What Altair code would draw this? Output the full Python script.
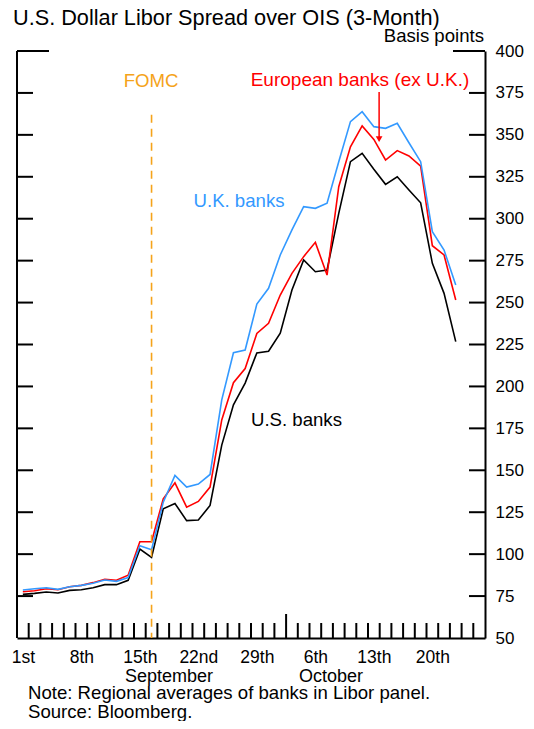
import altair as alt
import pandas as pd

W, H = 468, 587
FONT = "Liberation Sans"

# business days, day 0 = 1 Sep 2008, last point = 22 Oct 2008 (day 37)
us_banks = [76, 76.6, 77.4, 76.8, 78.4, 78.8, 80, 81.8, 81.8, 84.4,
            103, 98, 127, 130.2, 120, 120.4, 129, 165, 189, 202,
            220, 221, 231.7, 257.5, 275.4, 268.4, 269.4, 303.2, 334, 339,
            329.5, 320.5, 325, 317.1, 309.5, 273.4, 255.5, 226.7]
euro_banks = [77.6, 78.2, 79.4, 78.8, 80.6, 81.4, 83, 85, 84.4, 87.4,
              107.4, 107.4, 133, 142.5, 128, 131.4, 140, 180, 202.2, 210.7,
              231.6, 237.6, 254.5, 267.4, 277.4, 285.9, 266.4, 319.1, 342.9, 355.3,
              347.3, 335, 340.6, 337.4, 331.4, 283.9, 278.4, 251.5]
uk_banks = [78.6, 79.4, 80, 79, 80.6, 81.4, 82.6, 84.6, 83.8, 86,
            105, 102.6, 131, 147, 140, 141.8, 147.5, 192, 220.1, 221.7,
            249.1, 258.5, 278.4, 293.3, 307.2, 306.2, 309.2, 334, 357.9, 363.8,
            354.9, 353.9, 356.9, 345.3, 334, 292.3, 281.3, 260.5]
series = [("U.S. banks", us_banks, "black"),
          ("European banks (ex U.K.)", euro_banks, "red"),
          ("U.K. banks", uk_banks, "#3399ff")]

label_days = [0, 5, 10, 15, 20, 25, 30, 35]
label_text = ["1st", "8th", "15th", "22nd", "29th", "6th", "13th", "20th"]
y_labels = list(range(50, 401, 25))
y_ticks = list(range(75, 376, 25))
day_ticks = [k + 0.5 for k in range(39) if k != 22]
month_tick = [22.5]
fomc_day = 11
fomc_top = 362
arrow_day, arrow_top, arrow_tip = 30.45, 375.5, 347.5

xs = alt.Scale(domain=[-0.5, 39.5], nice=False, zero=False)
ys = alt.Scale(domain=[50, 400], nice=False, zero=False)
label_expr = "[" + ",".join(f"'{t}'" for t in label_text) + "][datum.value / 5]"

x_axis = alt.Axis(values=label_days, labelExpr=label_expr, tickSize=0, domainColor="black",
                  domainWidth=2, labelFont=FONT, labelFontSize=17.5, labelColor="black",
                  labelPadding=10, title=None, grid=False, labelFlush=False)
y_axis = alt.Axis(orient="right", values=y_labels, tickSize=0, domainColor="black",
                  domainWidth=2, labelFont=FONT, labelFontSize=17, labelColor="black",
                  labelPadding=10, title=None, grid=False, labelFlush=False)


def X(field):
    return alt.X(field, scale=xs, axis=x_axis)


def Y(field):
    return alt.Y(field, scale=ys, axis=y_axis)


layers = []
for name, vals, col in series:
    d = pd.DataFrame({"day": list(range(len(vals))), "bp": vals})
    layers.append(alt.Chart(d).mark_line(color=col, strokeWidth=1.6).encode(
        x=X("day:Q"), y=Y("bp:Q")))

one = pd.DataFrame({"a": [0]})
frame = alt.Chart(one).mark_rule(color="black", strokeWidth=2).encode(
    x=alt.value(0), y=alt.value(0), y2=alt.value(H))


def ticks(values, x0, x1):
    return alt.Chart(pd.DataFrame({"bp": values})).mark_rule(color="black", strokeWidth=2).encode(
        y=Y("bp:Q"), x=alt.value(x0), x2=alt.value(x1))


def xticks(values, length):
    return alt.Chart(pd.DataFrame({"day": values})).mark_rule(color="black", strokeWidth=2).encode(
        x=X("day:Q"), y=alt.value(H - length), y2=alt.value(H))


fomc = alt.Chart(pd.DataFrame({"day": [fomc_day], "bp": [fomc_top], "bot": [50]})).mark_rule(
    color="#f5a31a", strokeWidth=1.6, strokeDash=[8, 6]).encode(
    x=X("day:Q"), y=Y("bp:Q"), y2="bot:Q")

arrow_df = pd.DataFrame({"day": [arrow_day], "bp": [arrow_top], "tip": [arrow_tip]})
shaft = alt.Chart(arrow_df).mark_rule(color="red", strokeWidth=1.5).encode(
    x=X("day:Q"), y=Y("bp:Q"), y2="tip:Q")
head = alt.Chart(arrow_df).mark_point(shape="triangle-down", filled=True, color="red",
                                      size=45, opacity=1).encode(
    x=X("day:Q"), y=Y("tip:Q"))


def note(text, x, y, size=18.6, color="black", align="left"):
    return alt.Chart(pd.DataFrame({"t": [text]})).mark_text(
        font=FONT, fontSize=size, color=color, align=align, baseline="alphabetic").encode(
        x=alt.value(x), y=alt.value(y), text="t:N")


texts = [
    note("U.S. Dollar Libor Spread over OIS (3-Month)", -4, -26.5, size=21.7),
    note("Basis points", 467, -9, align="right"),
    note("FOMC", 134, 36, color="#f5a31a", align="center"),
    note("European banks (ex U.K.)", 343, 35, size=19, color="red", align="center"),
    note("U.K. banks", 222, 156, color="#3399ff", align="center"),
    note("U.S. banks", 234, 375),
    note("September", 152, 630.5, size=18, align="center"),
    note("October", 314, 630.5, size=18, align="center"),
    note("Note: Regional averages of banks in Libor panel.", 11, 647.5),
    note("Source: Bloomberg.", 11, 667),
]

chart = alt.layer(
    *layers, frame,
    ticks(y_ticks, 0, 16), ticks([400], 0, 32),
    ticks(y_ticks, W - 16, W), ticks([400], W - 32, W),
    xticks(day_ticks, 15), xticks(month_tick, 24),
    fomc, shaft, head, *texts,
).properties(
    width=W, height=H, autosize="none",
    padding={"left": 9, "top": 43, "right": 41, "bottom": 83},
).configure_view(stroke=None)

chart.save("out.html", embed_options={"renderer": "svg", "actions": False})
